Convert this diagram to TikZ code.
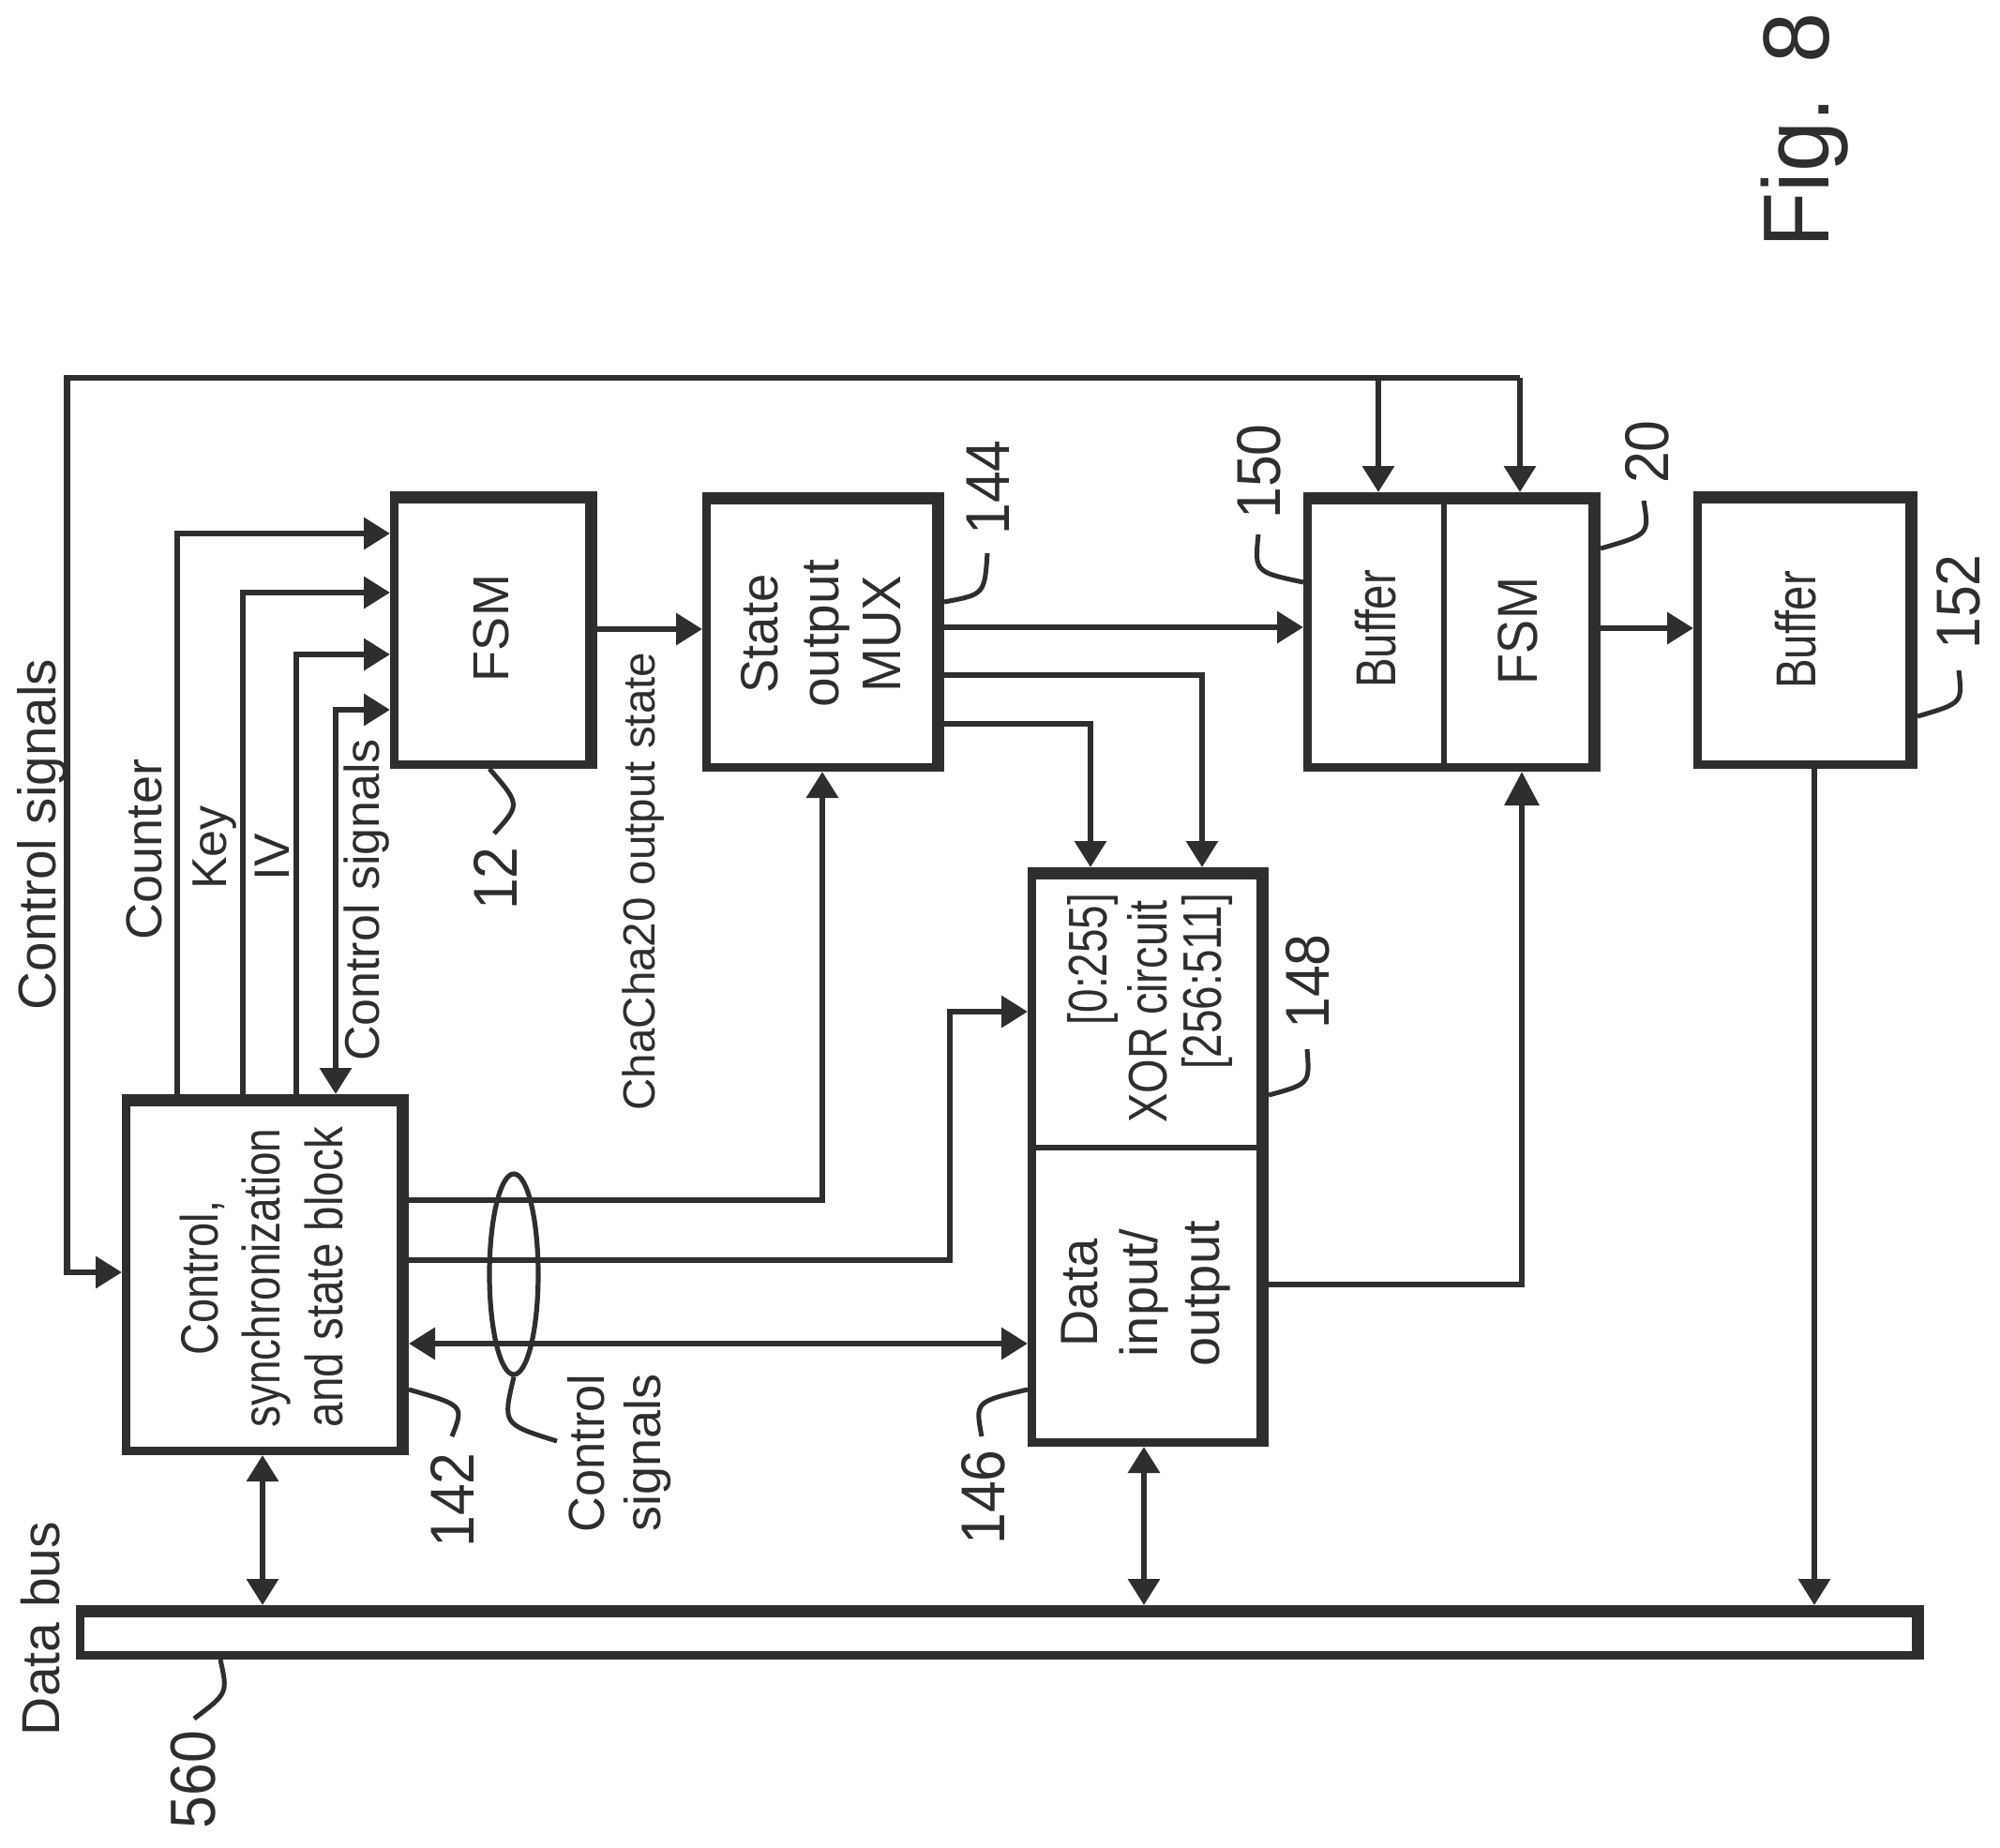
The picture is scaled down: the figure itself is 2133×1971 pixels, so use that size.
\documentclass[tikz,border=0pt]{standalone}
\usepackage{fontspec}
\setmainfont{Liberation Sans}
\usetikzlibrary{arrows.meta,shapes.geometric}
\definecolor{ink}{HTML}{2E2E2E}
\tikzset{
  >={Triangle[length=14pt,width=16.5pt]},
  blkbox/.style={draw=ink,line width=4.5pt,rectangle,inner sep=0pt,line join=miter},
  blkedge/.style={draw=ink,line width=6.5pt,line join=miter,line cap=rect},
  conn/.style={draw=ink,line width=3.2pt,line join=miter,color=ink},
  divline/.style={draw=ink,line width=3pt},
  leadline/.style={draw=ink,line width=2.5pt},
  txt/.style={rotate=90,anchor=base,inner sep=0pt,text=ink}
}
% name, left, top, right, bottom (outer edges)
\newcommand{\blk}[5]{%
  \node[blkbox,minimum width={(#4-#2-9)*0.5pt},minimum height={(#5-#3-9)*0.5pt}] (#1) at ({(#2+#4)/2},{(#3+#5)/2}) {};
  \draw[blkedge] ([shift={(6.5,6.5)}]#1.north west) -- ([shift={(-6.5,6.5)}]#1.north east) -- ([shift={(-6.5,-6.5)}]#1.south east);
}
% name, baseline x, centre y, font size, horizontal scale, text
\newcommand{\lab}[6]{%
  \node[txt,xscale=#5,font=\fontsize{#4}{#4}\selectfont] (#1) at (#2,#3) {#6};
}
\begin{document}
\begin{tikzpicture}[x=0.5pt,y=-0.5pt]
\useasboundingbox (0,0) rectangle (2133,1971);
% blocks
\blk{fsmA}{416}{524}{637}{820}
\blk{mux}{749}{525}{1007}{823}
\blk{bufsm}{1390}{525}{1707}{823}
\blk{bufB}{1806}{524}{2045}{820}
\blk{xordata}{1096}{925}{1353}{1543}
\blk{ctl}{130}{1167}{436}{1552}
\blk{bus}{81}{1712}{2052}{1770}
\draw[divline] (bufsm.north -| 1540,0) -- (bufsm.south -| 1540,0);
\draw[divline] (xordata.west |- 0,1224) -- (xordata.east |- 0,1224);
% control signals loop
\coordinate (topR) at (1621,403);
\coordinate (topM) at (1470,403);
\coordinate (topL) at (71.5,403);
\draw[conn,->] (topR) -- (topL) |- (ctl.west |- 0,1357);
\draw[conn,->] (topR) -- (bufsm.north -| topR);
\draw[conn,->] (topM) -- (bufsm.north -| topM);
% control block to FSM
\draw[conn,->] (ctl.north -| 189,0) |- (fsmA.west |- 0,569);
\draw[conn,->] (ctl.north -| 259,0) |- (fsmA.west |- 0,632);
\draw[conn,->] (ctl.north -| 316,0) |- (fsmA.west |- 0,698);
\draw[conn,<->] (fsmA.west |- 0,757) -| (ctl.north -| 358,0);
% data path
\draw[conn,->] (fsmA.east |- 0,671) -- (mux.west |- 0,671);
\draw[conn,->] (mux.east |- 0,669) -- (bufsm.west |- 0,669);
\draw[conn,->] (mux.east |- 0,720) -| (xordata.north -| 1282,0);
\draw[conn,->] (mux.east |- 0,772) -| (xordata.north -| 1163,0);
\draw[conn,->] (bufsm.east |- 0,670) -- (bufB.west |- 0,670);
\draw[conn,-{Triangle[length=18pt,width=18pt]}] (xordata.east |- 0,1370) -| (bufsm.south -| 1623,0);
\draw[conn,->] (bufB.south -| 1935,0) -- (bus.north -| 1935,0);
% control block outputs
\draw[conn,->] (ctl.east |- 0,1280) -| (mux.south -| 877,0);
\draw[conn,->] (ctl.east |- 0,1344) -| (1013,1079) -- (xordata.west |- 0,1079);
\draw[conn,<->] (ctl.east |- 0,1433) -- (xordata.west |- 0,1433);
% bus links
\draw[conn,<->] (ctl.south -| 280,0) -- (bus.north -| 280,0);
\draw[conn,<->] (xordata.south -| 1220,0) -- (bus.north -| 1220,0);
% signal ring
\node[ellipse,draw=ink,line width=2.6pt,inner sep=0pt,minimum width=26pt,minimum height=107pt] (ring) at (548,1359) {};
% leader lines
\coordinate (e12) at (527,889);
\coordinate (e142) at (482,1532);
\coordinate (ering) at (594,1537);
\coordinate (e560) at (207,1833);
\coordinate (e146) at (1047,1532);
\coordinate (e144) at (1053,590);
\coordinate (e150) at (1342,570);
\coordinate (e20) at (1753,534);
\coordinate (e152) at (2089,715);
\coordinate (e148) at (1394,1119);
\draw[leadline] (fsmA.south -| 522,0) .. controls (555,858) .. (e12);
\draw[leadline] (ctl.east |- 0,1482) .. controls (495,1499) .. (e142);
\draw[leadline] (ring.south) .. controls (536,1519) .. (ering);
\draw[leadline] (bus.south -| 235,0) .. controls (243,1806) .. (e560);
\draw[leadline] (xordata.west |- 0,1482) .. controls (1040,1495) .. (e146);
\draw[leadline] (mux.east |- 0,642) .. controls (1050,634) .. (e144);
\draw[leadline] (bufsm.west |- 0,621) .. controls (1338,610) .. (e150);
\draw[leadline] (bufsm.east |- 0,585) .. controls (1759,570) .. (e20);
\draw[leadline] (bufB.east |- 0,764) .. controls (2093,750) .. (e152);
\draw[leadline] (xordata.east |- 0,1168) .. controls (1397,1156) .. (e148);
% texts
\lab{tFig}{1950}{139}{50}{0.97}{Fig. 8}
\lab{tCS}{60}{890}{28.3}{1}{Control signals}
\lab{tCounter}{172}{906}{27}{1}{Counter}
\lab{tKey}{241}{904}{26}{1}{Key}
\lab{tIV}{308}{914}{26.5}{1}{IV}
\lab{tCSb}{404}{960}{26}{1}{Control signals}
\lab{tFSMa}{542}{670}{27}{1}{FSM}
\lab{tCha}{698}{940}{24}{0.99}{ChaCha20 output state}
\lab{tState}{829}{676}{28}{0.97}{State}
\lab{tOutput}{894}{676}{28.4}{1}{output}
\lab{tMux}{960}{676}{29}{0.97}{MUX}
\lab{tBufA}{1488}{671}{30}{0.79}{Buffer}
\lab{tFSMb}{1639}{673}{30}{0.9}{FSM}
\lab{tBufB}{1936}{672}{30}{0.79}{Buffer}
\lab{tXa}{1180}{1023}{29}{0.79}{[0:255]}
\lab{tXb}{1244}{1079}{29}{0.81}{XOR circuit}
\lab{tXc}{1302}{1047}{29}{0.79}{[256:511]}
\lab{tDa}{1170}{1379}{28}{0.97}{Data}
\lab{tDb}{1234}{1379}{28}{1}{input/}
\lab{tDc}{1300}{1380}{28}{1}{output}
\lab{tCa}{232}{1363}{28}{0.84}{Control,}
\lab{tCb}{298}{1363}{28}{0.82}{synchronization}
\lab{tCc}{365}{1362}{28}{0.85}{and state block}
\lab{tSa}{644}{1550}{27}{0.97}{Control}
\lab{tSb}{704}{1549}{27}{1}{signals}
\lab{tBus}{63}{1737}{28.5}{1}{Data bus}
\lab{n12}{551}{937}{33}{0.92}{12}
\lab{n142}{505}{1600}{33}{0.92}{142}
\lab{n144}{1076}{520}{33}{0.92}{144}
\lab{n146}{1071}{1597}{33}{0.92}{146}
\lab{n148}{1417}{1047}{33}{0.92}{148}
\lab{n150}{1365}{503}{33}{0.92}{150}
\lab{n152}{2111}{642}{33}{0.92}{152}
\lab{n20}{1779}{482}{33}{0.92}{20}
\lab{n560}{229}{1898}{34}{0.92}{560}
\end{tikzpicture}
\end{document}
